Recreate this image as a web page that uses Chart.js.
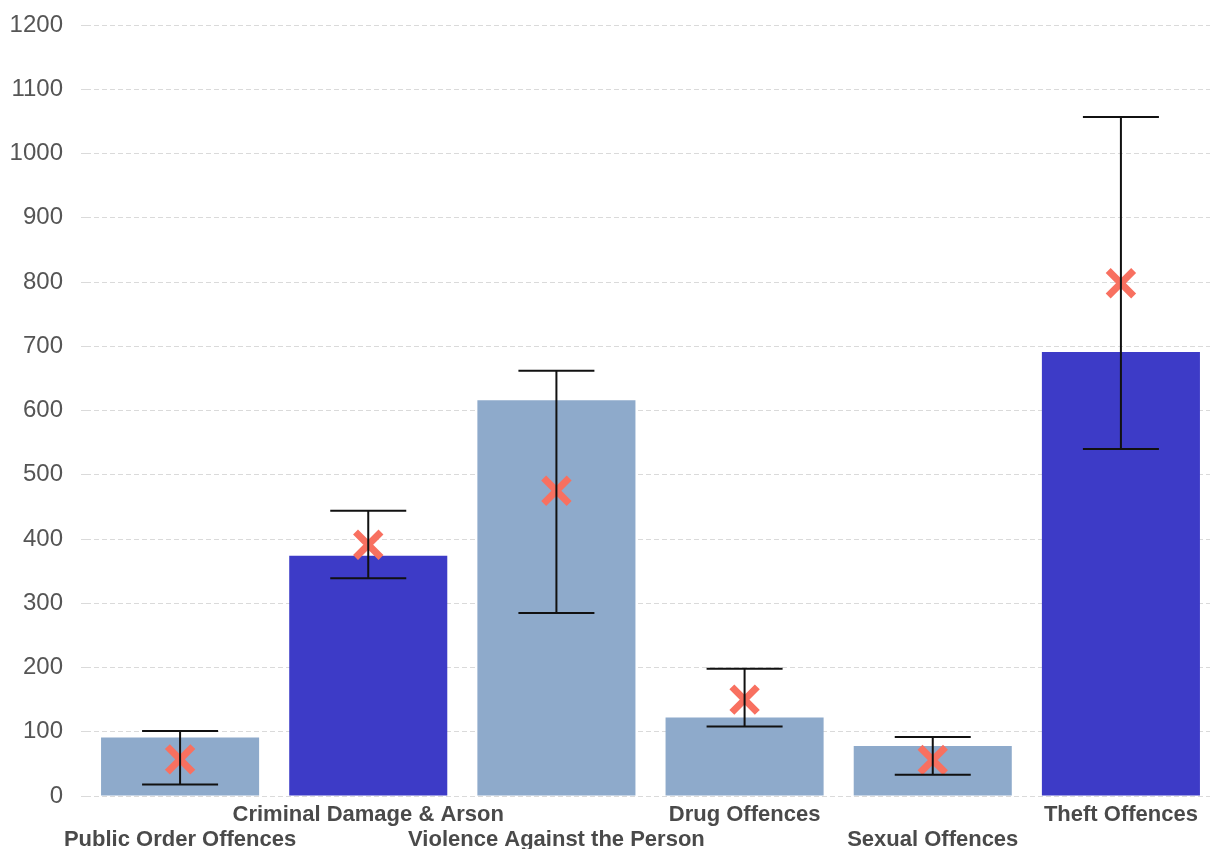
<!DOCTYPE html>
<html>
<head>
<meta charset="utf-8">
<script src="https://cdn.jsdelivr.net/npm/chart.js@4.4.1/dist/chart.umd.min.js"></script>
<style>
  html, body { margin: 0; padding: 0; background: #fff; overflow: hidden; }
  #chart { display: block; width: 1240px; height: 849px; }
</style>
</head>
<body>
<canvas id="chart" width="1240" height="849"></canvas>
<script>
const categories = ['Public Order Offences', 'Criminal Damage & Arson', 'Violence Against the Person',
  'Drug Offences', 'Sexual Offences', 'Theft Offences'];
const barValues = [91, 374, 616, 122, 78, 691];
const markerValues = [57, 391, 475, 150, 56, 798];
const errorLow = [18, 339, 285, 108, 33, 540];
const errorHigh = [101, 444, 662, 198, 92, 1057];
const highlighted = [false, true, false, false, false, true];

const LIGHT = '#8eaacb';
const DARK = '#3d3bc7';

// staggered labels: every other one drops to the second row
const labels = categories.map((c, i) => i % 2 === 0 ? ['', c] : [c, '']);

const errorBars = {
  id: 'errorBars',
  afterDatasetsDraw(chart) {
    const { ctx, scales: { x, y } } = chart;
    ctx.save();
    ctx.strokeStyle = '#111';
    ctx.lineWidth = 2;
    errorLow.forEach((lo, i) => {
      const px = x.getPixelForValue(i);
      const yLo = y.getPixelForValue(lo);
      const yHi = y.getPixelForValue(errorHigh[i]);
      ctx.beginPath();
      ctx.moveTo(px, yLo); ctx.lineTo(px, yHi);
      ctx.moveTo(px - 38, yLo); ctx.lineTo(px + 38, yLo);
      ctx.moveTo(px - 38, yHi); ctx.lineTo(px + 38, yHi);
      ctx.stroke();
    });
    ctx.restore();
  }
};

new Chart(document.getElementById('chart'), {
  type: 'bar',
  data: {
    labels: labels,
    datasets: [{
      type: 'bar',
      data: barValues,
      backgroundColor: highlighted.map(h => h ? DARK : LIGHT),
      borderWidth: 0,
      categoryPercentage: 1,
      barPercentage: 0.84,
      order: 2
    }, {
      type: 'line',
      data: markerValues,
      showLine: false,
      pointStyle: 'crossRot',
      pointRadius: 18,
      pointBorderWidth: 7,
      pointBorderColor: '#f87060',
      pointBackgroundColor: '#f87060',
      order: 1
    }]
  },
  options: {
    responsive: false,
    devicePixelRatio: 1,
    animation: false,
    layout: { padding: { top: 24, right: 1, left: 0, bottom: 0 } },
    plugins: { legend: { display: false }, tooltip: { enabled: false } },
    scales: {
      x: {
        grid: { display: false, drawTicks: false },
        border: { display: false },
        ticks: {
          autoSkip: false,
          maxRotation: 0,
          padding: 6,
          color: '#4a4a4a',
          font: { family: 'Liberation Sans, Arial, sans-serif', size: 22, weight: 'bold', lineHeight: 1.14 }
        },
        afterFit(axis) {
          axis.height = 53;
          axis.paddingLeft = 0;
          axis.paddingRight = 0;
        }
      },
      y: {
        min: 0,
        max: 1200,
        grid: { color: '#dadada', lineWidth: 1, tickLength: 5 },
        border: { display: false, dash: [5, 3] },
        ticks: {
          stepSize: 100,
          padding: 18,
          color: '#555',
          font: { family: 'Liberation Sans, Arial, sans-serif', size: 24 },
          callback: v => String(v)
        },
        afterFit(axis) {
          axis.width = 86;
          axis.paddingTop = 0;
          axis.paddingBottom = 0;
        }
      }
    }
  },
  plugins: [errorBars]
});
</script>
</body>
</html>
